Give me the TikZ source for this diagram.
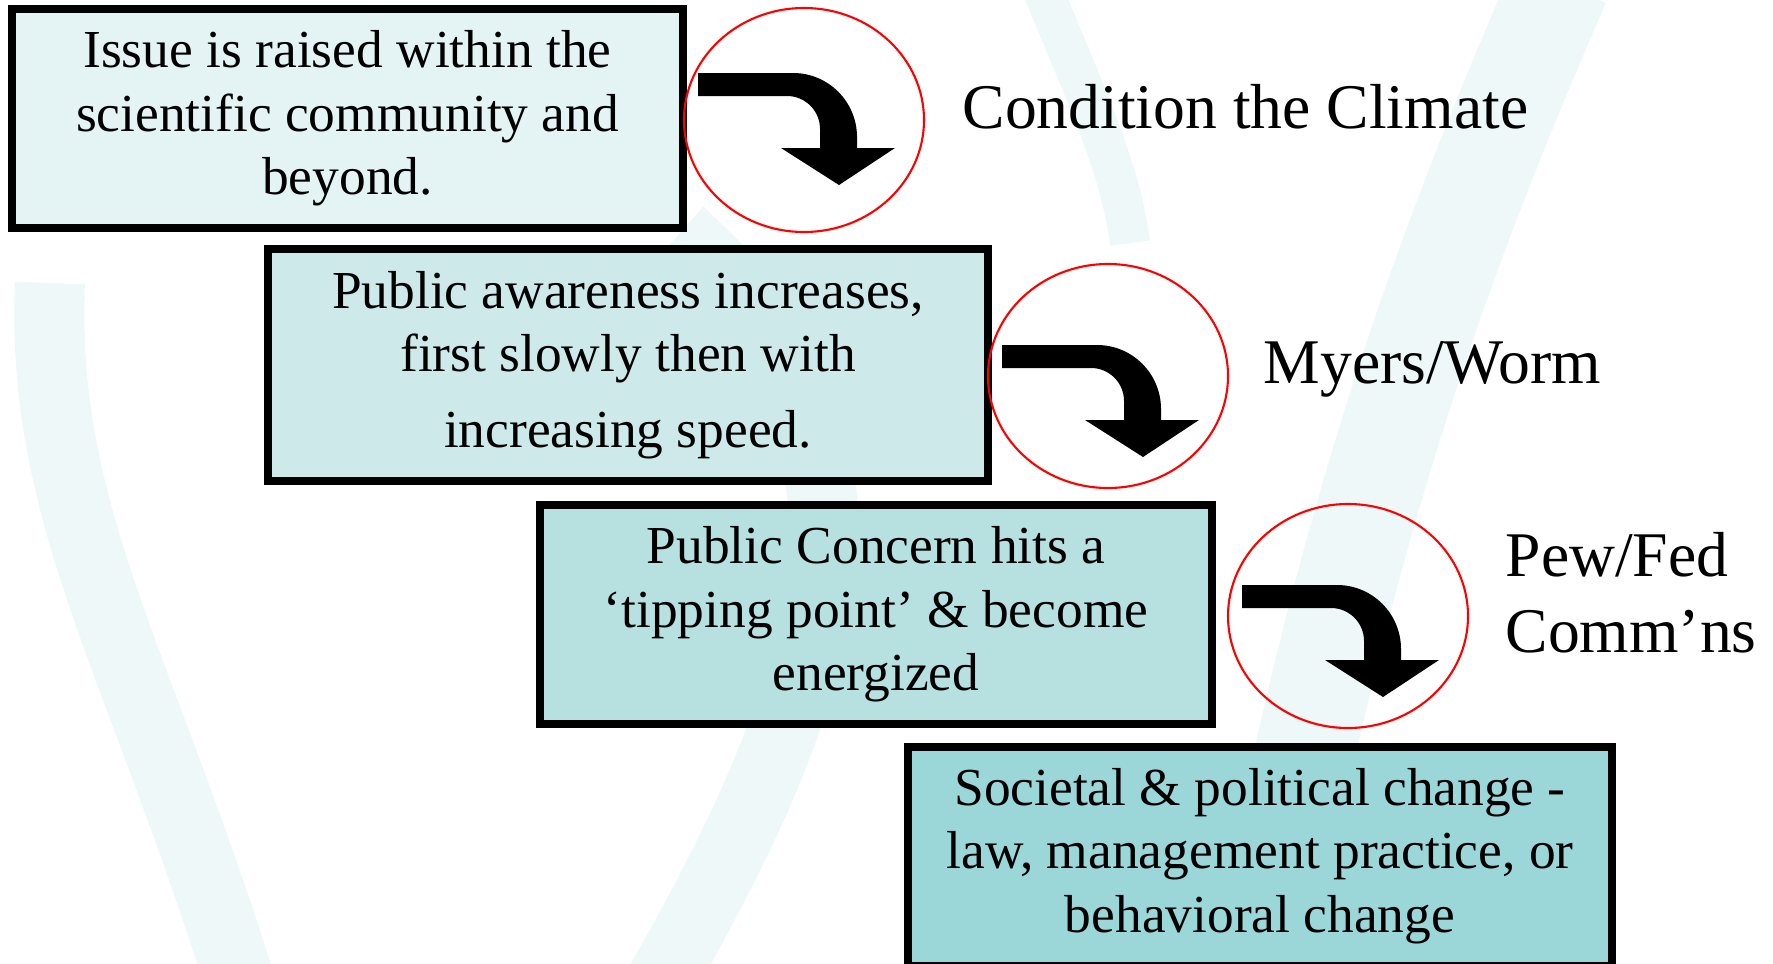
\documentclass[tikz,border=0pt]{standalone}
\usepackage{fontspec}
\setmainfont{Liberation Serif}
\usetikzlibrary{shapes.geometric}

\definecolor{paleA}{RGB}{228,243,244}
\definecolor{paleB}{RGB}{205,233,234}
\definecolor{paleC}{RGB}{183,224,225}
\definecolor{paleD}{RGB}{155,214,216}
\definecolor{swirl}{RGB}{238,248,249}

\tikzset{
	stage/.style={draw, line width=0.08cm, align=center, inner sep=0pt, font=\fontsize{15.2}{18.1}\selectfont},
	ring/.style={ellipse, draw=red, line width=0.6pt, minimum width=2.4cm, minimum height=2.24cm, inner sep=0pt},
	tag/.style={anchor=base west, inner sep=0pt, font=\fontsize{18.1}{21}\selectfont},
	bentarrow/.pic={
		\fill (0,0) -- ++(0.95,0) arc [start angle=90, end angle=0, radius=0.64] -- ++(0,-0.11) -- ++(0.38,0) -- ++(-0.56,-0.37) -- ++(-0.58,0.37) -- ++(0.39,0) -- ++(0,0.19) arc [start angle=0, end angle=90, radius=0.33] -- ++(-0.89,0) -- cycle;
	}
}

\begin{document}
\begin{tikzpicture}

	\useasboundingbox (0,0) rectangle (17.73,9.63);
	\clip (0,0) rectangle (17.73,9.63);

	% background
	\draw [swirl, line width=1.0cm] (15.6,9.8) .. controls (14.6,7.5) and (13.4,4.5) .. (12.6,-0.2);
	\draw [swirl, line width=0.4cm] (10.4,9.8) .. controls (10.8,8.8) and (11.2,8.0) .. (11.3,7.2);
	\draw [swirl, line width=0.7cm] (2.4,-0.2) .. controls (1.4,3) and (0.4,4.5) .. (0.5,6.8);
	\draw [swirl, line width=0.7cm] (6.6,-0.2) .. controls (8.2,2.6) and (9.2,5.2) .. (6.8,7.3);

	% stages
	\node [stage, fill=paleA, minimum width=6.71cm, minimum height=2.19cm] (s1) at (3.475,8.445)
		{Issue is raised within the\\scientific community and\\beyond.};
	\node [stage, fill=paleB, minimum width=7.20cm, minimum height=2.32cm] (s2) at (6.28,5.98)
		{Public awareness increases,\\first slowly then with\\[0.12cm]increasing speed.};
	\node [stage, fill=paleC, minimum width=6.72cm, minimum height=2.19cm] (s3) at (8.76,3.485)
		{Public Concern hits a\\‘tipping point’ \& become\\energized};
	\node [stage, fill=paleD, minimum width=7.04cm, minimum height=2.19cm] (s4) at (12.60,1.07)
		{Societal \& political change -\\law, management practice, or\\behavioral change};

	% rings
	\node [ring] (e1) at (8.04,8.43) {};
	\node [ring] (e2) at (11.08,5.87) {};
	\node [ring] (e3) at (13.48,3.47) {};

	% arrows
	\pic at ([shift={(-1.06,0.47)}]e1.center) {bentarrow};
	\pic at ([shift={(-1.06,0.31)}]e2.center) {bentarrow};
	\pic at ([shift={(-1.06,0.31)}]e3.center) {bentarrow};

	% labels
	\node [tag] (l1) at (9.62,8.35) {Condition the Climate};
	\node [tag] (l2) at (12.63,5.80) {Myers/Worm};
	\node [tag] (l3) at (15.05,3.87) {Pew/Fed};
	\node [tag] (l4) at (15.05,3.11) {Comm’ns};

\end{tikzpicture}
\end{document}
